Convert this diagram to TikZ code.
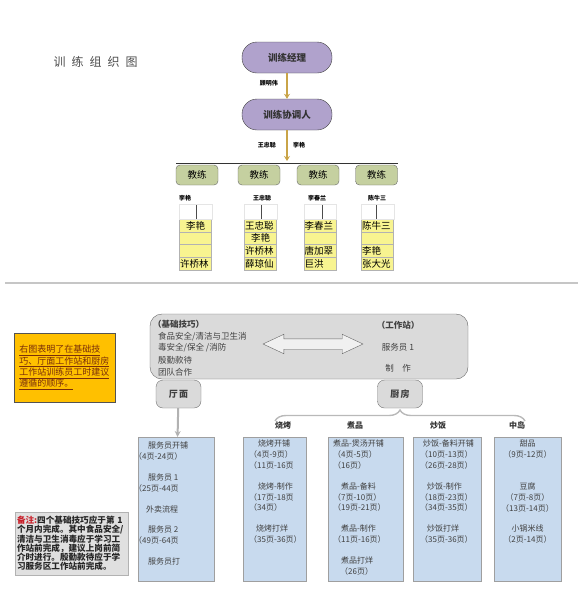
\documentclass[tikz,border=0pt]{standalone}
\usepackage{fontspec}
\setmainfont{Noto Sans CJK SC}
\usetikzlibrary{arrows.meta, shapes.arrows, decorations.pathreplacing}
\definecolor{rolepurple}{HTML}{B0A2CC}
\definecolor{coachgreen}{HTML}{C5D0A0}
\definecolor{cellyellow}{HTML}{F8F490}
\definecolor{pageblue}{HTML}{C8DAEE}
\definecolor{panelgray}{HTML}{DADADA}
\definecolor{noteorange}{HTML}{FFC000}
\definecolor{arrowgold}{HTML}{C9A448}
\definecolor{notered}{HTML}{C8202A}
\definecolor{notebrown}{HTML}{7A2E0A}
\tikzset{
  rolebox/.style={draw=black!75, fill=rolepurple, rounded corners=15pt, minimum width=90pt, minimum height=31pt, font=\bfseries\fontsize{9.5}{10}\selectfont, text=black!80},
  coachbox/.style={draw=black!60, fill=coachgreen, rounded corners=4pt, minimum width=42pt, minimum height=20pt, font=\fontsize{9.5}{10}\selectfont},
  tinyname/.style={font=\bfseries\fontsize{6}{6}\selectfont, inner sep=1pt},
  cell/.style={draw=gray!60, fill=cellyellow, minimum width=32pt, minimum height=12.8pt, text width=31pt, inner sep=0.5pt, font=\fontsize{9.5}{10}\selectfont},
  goldarrow/.style={draw=arrowgold, line width=2pt, -{Stealth[length=5pt,width=6pt]}},
  areabox/.style={draw=black!55, fill=panelgray, rounded corners=7pt, minimum width=45pt, minimum height=28pt, font=\bfseries\fontsize{9}{10}\selectfont, text=black!75},
  pagebox/.style={draw=gray!75, fill=pageblue, anchor=north, minimum height=144pt},
  pagetext/.style={anchor=north west, inner sep=0pt, align=left, font=\fontsize{8}{10.8}\selectfont, text=black!75},
  stationlbl/.style={font=\bfseries\fontsize{8}{8}\selectfont, text=black!80},
}
\begin{document}
\begin{tikzpicture}[x=1pt, y=-1pt]
\useasboundingbox (0,0) rectangle (583,600);
\node[font=\fontsize{12}{12}\selectfont, text=black!70] (title) at (95.5,62) {训\hspace{6pt}练\hspace{6pt}组\hspace{6pt}织\hspace{6pt}图};

% management chain
\node[rolebox] (manager) at (287,57.5) {训练经理};
\node[rolebox] (coord) at (287,114.5) {训练协调人};
\draw[goldarrow] (manager) -- (coord);
\node[tinyname, anchor=east] at (279,83) {顾明伟};
\coordinate (bartop) at (287,161);
\draw[goldarrow] (coord) -- (bartop);
\node[tinyname, anchor=east] at (277,145) {王忠聪};
\node[tinyname, anchor=west] at (292,145) {李艳};
\coordinate (barL) at (176,163);
\coordinate (barR) at (398,163);
\draw[black!80, line width=0.8pt] (barL) -- (barR);

% coaches
\foreach \cx [count=\i] in {197,259,318,376.5}
  \node[coachbox] (coach\i) at (\cx,175) {教练};
\node[tinyname] (leadA) at (185,198) {李艳};
\node[tinyname] (leadB) at (262,198) {王忠聪};
\node[tinyname] (leadC) at (317,198) {李春兰};
\node[tinyname] (leadD) at (377,198) {陈牛三};

% staff columns
\foreach \who/\al [count=\r] in {李艳/center, /left, /left, 许桥林/left}
  \node[cell, align=\al] (staffA\r) at (195.5,{212.6+12.8*\r}) {\who};
\foreach \who/\al [count=\r] in {王忠聪/left, 李艳/center, 许桥林/left, 薛琼仙/left}
  \node[cell, align=\al] (staffB\r) at (260.5,{212.6+12.8*\r}) {\who};
\foreach \who/\al [count=\r] in {李春兰/left, /left, 唐加翠/left, 巨洪/left}
  \node[cell, align=\al] (staffC\r) at (320,{212.6+12.8*\r}) {\who};
\foreach \who/\al [count=\r] in {陈牛三/left, /left, 李艳/left, 张大光/left}
  \node[cell, align=\al] (staffD\r) at (377.5,{212.6+12.8*\r}) {\who};
\foreach \col/\hx in {A/196, B/261, C/322, D/376} {
  \draw[gray!20] (staff\col1.north west) rectangle ([yshift=15pt]staff\col1.north east);
  \coordinate (hdr\col) at (\hx,205);
  \draw[black!70] (hdr\col) -- (hdr\col |- staff\col1.north);
}

\draw[gray!45, line width=1.5pt] (5,283) -- (578,283);

% lower half
\node[draw=gray!65!black, fill=noteorange, minimum width=101pt, minimum height=69pt, text=notebrown, align=left, font=\fontsize{9}{10}\selectfont] (hint) at (64.5,367.5)
  {\underline{右图表明了在基础技}\\\underline{巧、厅面工作站和厨房}\\\underline{工作站训练员工时建议}\\\underline{遵循的顺序。}};

\node[draw=black!60, fill=panelgray, rounded corners=12pt, minimum width=318pt, minimum height=65pt] (panel) at (309,346.5) {};
\node[pagetext, font=\fontsize{8.5}{11.5}\selectfont] (basics) at (158,320)
  {\hspace*{-5pt}\textbf{（基础技巧）}\\食品安全/清洁与卫生消\\毒安全/保全 /消防\\[1.5pt]殷勤款待\\团队合作};
\node[double arrow, draw=black!60, fill=panelgray!40, inner sep=5pt, minimum height=100pt, double arrow head extend=4.5pt, double arrow tip angle=50] (link) at (313,344) {};
\node[align=center, font=\fontsize{8.5}{21.5}\selectfont, text=black!75] (stations) at (398,347)
  {\textbf{（工作站）}\\服务员 1\\制\quad 作};

\node[areabox] (hall) at (178.5,394) {厅\,面};
\node[areabox] (kitchen) at (400,394) {厨\,房};
\coordinate (braceL) at (275,421);
\coordinate (braceR) at (525,421);
\draw[gray!55, line width=1.4pt, decorate, decoration={brace, amplitude=11pt}] (braceL) -- (braceR);
\node[stationlbl] (grill) at (283,425) {烧烤};
\node[stationlbl] (stew) at (355,425) {煮品};
\node[stationlbl] (wok) at (438,425) {炒饭};
\node[stationlbl] (island) at (517,425) {中岛};

% page boxes
\node[pagebox, minimum width=76pt] (hallpages) at (176,437) {};
\node[pagebox, minimum width=63pt] (grillpages) at (274.5,437) {};
\node[pagebox, minimum width=75pt] (stewpages) at (365.5,437) {};
\node[pagebox, minimum width=68pt] (wokpages) at (447,437) {};
\node[pagebox, minimum width=67pt] (islandpages) at (527.5,437) {};
\draw[gray!60, line width=2pt, -{Stealth[length=6pt,width=6pt]}] (hall) -- (hallpages);

\node[pagetext] at (134,442)
  {\hspace*{14pt}服务员开铺\\（4页-24页）\\[10pt]\hspace*{14pt}服务员 1\\（25页-44页\\[10pt]\hspace*{12pt}外卖流程\\[10pt]\hspace*{14pt}服务员 2\\（49页-64页\\[10pt]\hspace*{14pt}服务员打};
\node[pagetext] at (249,440)
  {\hspace*{9pt}烧烤开铺\\（4页-9页）\\（11页-16页\\[10pt]\hspace*{9pt}烧烤-制作\\（17页-18页\\（34页）\\[10pt]\hspace*{7pt}烧烤打烊\\（35页-36页）};
\node[pagetext] at (333,440)
  {煮品-煲汤开铺\\（4页-5页）\\（16页）\\[10pt]\hspace*{8pt}煮品-备料\\（7页-10页）\\（19页-21页）\\[10pt]\hspace*{8pt}煮品-制作\\（11页-16页）\\[10pt]\hspace*{8pt}煮品打烊\\\hspace*{7pt}（26页）};
\node[pagetext] at (420,440)
  {\hspace*{3pt}炒饭-备料开铺\\（10页-13页）\\（26页-28页）\\[10pt]\hspace*{7pt}炒饭-制作\\（18页-23页）\\（34页-35页）\\[10pt]\hspace*{7pt}炒饭打烊\\（35页-36页）};
\node[pagetext, anchor=north, align=center] at (527.5,440)
  {甜品\\（9页-12页）\\[21pt]豆腐\\（7页-8页）\\（13页-14页）\\[10pt]小锅米线\\（2页-14页）};

\node[draw=gray!60, fill=panelgray!85, inner sep=2pt, text width=109pt, minimum height=63pt, align=left, font=\bfseries\fontsize{8.6}{8.9}\selectfont, text=black!85] (remark) at (71.5,543.5)
  {\textcolor{notered}{备注:}四个基础技巧应于第 1\\个月内完成。其中食品安全/\\清洁与卫生消毒应于学习工\\作站前完成，建议上岗前简\\介时进行。殷勤款待应于学\\习服务区工作站前完成。};
\end{tikzpicture}
\end{document}
